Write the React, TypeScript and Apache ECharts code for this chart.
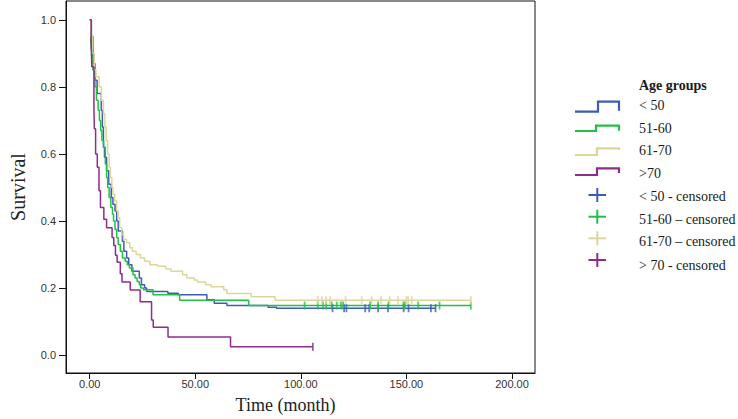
import React, { useEffect, useRef } from "react";
import * as echarts from "echarts";

// Kaplan-Meier step points [time (month), survival]
const under50: number[][] = [
  [0, 1.0], [0.8, 0.95], [1.5, 0.87], [2.5, 0.82], [3.5, 0.78], [5.5, 0.73], [6.0, 0.68],
  [6.5, 0.62], [7.0, 0.59], [8.0, 0.55], [9.0, 0.51], [10.2, 0.47], [11.0, 0.45], [12.0, 0.43],
  [12.8, 0.40], [13.5, 0.37], [15.5, 0.34], [16.2, 0.31], [17.5, 0.29], [18.5, 0.27], [20.0, 0.25],
  [23.5, 0.23], [24.5, 0.21], [26.0, 0.20], [27.0, 0.19], [37.0, 0.185], [42.0, 0.18], [55.5, 0.165],
  [59.0, 0.155], [65.0, 0.148], [84.5, 0.143], [88.5, 0.14],
];
const under50End = 163.8;
const under50Censored = [115, 120.5, 121.6, 130.5, 132.4, 136.6, 141.3, 148.7, 151, 161.6, 163.8];

const g5160: number[][] = [
  [0, 1.0], [0.5, 0.94], [0.8, 0.91], [1.5, 0.85], [2.5, 0.80], [3.2, 0.76], [4.0, 0.73],
  [4.6, 0.70], [5.2, 0.67], [5.8, 0.64], [6.6, 0.62], [7.4, 0.57], [8.0, 0.53], [8.5, 0.50],
  [9.2, 0.47], [10.0, 0.44], [10.8, 0.42], [11.3, 0.40], [12.0, 0.375], [12.8, 0.35], [13.5, 0.33],
  [14.5, 0.31], [15.5, 0.29], [16.8, 0.28], [17.8, 0.27], [18.8, 0.26], [20.5, 0.24], [21.5, 0.23],
  [22.5, 0.22], [23.5, 0.21], [24.2, 0.20], [25.4, 0.195], [30.0, 0.18], [42.6, 0.164], [75.3, 0.148],
];
const g5160End = 180.5;
const g5160Censored = [101.8, 108, 110.5, 112, 114.6, 117, 119, 120, 132.8, 136.6, 141.5, 148.6, 149.3, 155.6, 165.7, 180.5];

const g6170: number[][] = [
  [0, 1.0], [0.5, 0.95], [1.2, 0.90], [2.2, 0.85], [3.0, 0.83], [4.5, 0.80], [5.5, 0.76],
  [6.5, 0.72], [7.2, 0.68], [7.8, 0.64], [8.5, 0.60], [9.2, 0.56], [9.8, 0.53], [10.5, 0.50],
  [11.0, 0.48], [11.8, 0.46], [12.8, 0.43], [13.5, 0.41], [14.2, 0.38], [15.2, 0.36], [16.0, 0.345],
  [17.5, 0.335], [19.0, 0.32], [20.2, 0.31], [22.0, 0.30], [24.0, 0.29], [26.0, 0.28], [28.5, 0.27],
  [32.0, 0.265], [36.0, 0.257], [38.5, 0.25], [44.0, 0.24], [46.0, 0.23], [49.5, 0.224], [51.0, 0.218],
  [55.0, 0.21], [57.5, 0.204], [63.5, 0.195], [65.0, 0.184], [76.5, 0.174], [87.8, 0.164],
];
const g6170End = 180.5;
const g6170Censored = [108, 110, 112, 113.8, 121.2, 128.8, 133.5, 138, 142.1, 146, 150, 150.8, 152.5, 180.5];

const over70: number[][] = [
  [0, 1.0], [0.7, 0.93], [1.0, 0.86], [2.0, 0.74], [2.2, 0.675], [2.8, 0.60], [3.6, 0.56],
  [4.4, 0.49], [5.1, 0.44], [6.7, 0.405], [8.0, 0.38], [10.6, 0.351], [11.4, 0.327], [12.2, 0.298],
  [13.0, 0.277], [14.5, 0.243], [15.3, 0.218], [19.2, 0.194], [23.9, 0.159], [29.3, 0.105],
  [30.1, 0.083], [37.1, 0.054], [66.7, 0.025],
];
const over70End = 105.7;
const over70Censored = [105.7];

const groupNames = ["< 50", "51-60", "61-70", ">70"];
const censoredNames = ["< 50 - censored", "51-60 \u2013 censored", "61-70 \u2013 censored", "> 70 - censored"];
const colors = ["#3D5DB5", "#25BE47", "#DDD69C", "#8E2C8E"];

const xTicks = [0, 50, 100, 150, 200];
const yTicks = [0, 0.2, 0.4, 0.6, 0.8, 1.0];

function survivalAt(curve: number[][], t: number): number {
  let s = curve[0][1];
  for (const p of curve) {
    if (p[0] <= t) s = p[1];
  }
  return s;
}

export default function App() {
  const ref = useRef<HTMLDivElement>(null);
  useEffect(() => {
    if (!ref.current) return;
    const chart = echarts.init(ref.current, null, { renderer: "svg" });
    const curves = [under50, g5160, g6170, over70];
    const ends = [under50End, g5160End, g6170End, over70End];
    const cens = [under50Censored, g5160Censored, g6170Censored, over70Censored];
    const drawOrder = [2, 0, 1, 3];

    const series: any[] = [];
    drawOrder.forEach((i) => {
      const data = curves[i].map((p) => [p[0], p[1]]);
      data.push([ends[i], curves[i][curves[i].length - 1][1]]);
      series.push({
        name: groupNames[i],
        type: "line",
        step: "end",
        data,
        showSymbol: false,
        lineStyle: { color: colors[i], width: 1.5 },
        z: 2 + i,
      });
    });
    drawOrder.forEach((i) => {
      series.push({
        name: censoredNames[i],
        type: "scatter",
        symbol: "rect",
        symbolSize: [1.8, 8],
        itemStyle: { color: colors[i] },
        data: cens[i].map((t) => [t, survivalAt(curves[i], t)]),
        z: 6 + i,
      });
    });

    // legend (drawn as graphics)
    const stepIcons = [
      [[575, 111.7], [598, 111.7], [598, 101.7], [619, 101.7], [619, 110.7]],
      [[575, 131], [596, 131], [596, 125.7], [619, 125.7], [619, 130.7]],
      [[575, 155], [597, 155], [597, 148.3], [619, 148.3], [619, 150]],
      [[575, 175], [597, 175], [597, 168.3], [619, 168.3], [619, 173]],
    ];
    const textY = [105, 128.3, 150.7, 173.3];
    const censY = [196.7, 219.3, 241.7, 265];
    const plusY = [195, 216.7, 238.3, 260];
    const serifFont = "'Liberation Serif', 'Times New Roman', serif";
    const elements: any[] = [
      {
        type: "text",
        x: 639,
        y: 85,
        style: {
          text: "Age groups",
          font: "bold 14px " + serifFont,
          fill: "#1a1a1a",
          verticalAlign: "middle",
        },
      },
    ];
    for (let i = 0; i < 4; i++) {
      elements.push({
        type: "polyline",
        shape: { points: stepIcons[i] },
        style: { stroke: colors[i], lineWidth: 2.2, fill: null },
      });
      elements.push({
        type: "text",
        x: 639,
        y: textY[i],
        style: { text: groupNames[i], font: "14px " + serifFont, fill: "#1a1a1a", verticalAlign: "middle" },
      });
      elements.push({
        type: "line",
        shape: { x1: 588.5, y1: plusY[i], x2: 606, y2: plusY[i] },
        style: { stroke: colors[i], lineWidth: 2 },
      });
      elements.push({
        type: "line",
        shape: { x1: 597.3, y1: plusY[i] - 7, x2: 597.3, y2: plusY[i] + 7 },
        style: { stroke: colors[i], lineWidth: 2 },
      });
      elements.push({
        type: "text",
        x: 639,
        y: censY[i],
        style: { text: censoredNames[i], font: "14px " + serifFont, fill: "#1a1a1a", verticalAlign: "middle" },
      });
    }

    const labelFont = { fontFamily: "'Liberation Sans', Arial, sans-serif", fontSize: 11, color: "#333" };
    chart.setOption({
      animation: false,
      backgroundColor: "#fff",
      grid: {
        left: 60,
        right: 203,
        top: 1,
        bottom: 42,
        show: true,
        borderColor: "#111",
        borderWidth: 1,
        containLabel: false,
      },
      xAxis: {
        type: "value",
        min: -11.22,
        max: 210.9,
        name: "Time (month)",
        nameLocation: "middle",
        nameGap: 23,
        nameTextStyle: {
          fontFamily: serifFont,
          fontSize: 18,
          color: "#222",
          padding: [0, 30, 0, 0],
        },
        axisLine: { show: true, onZero: false, lineStyle: { color: "#111", width: 1 } },
        axisTick: { show: true, length: 6, customValues: xTicks, lineStyle: { color: "#111" } },
        axisLabel: {
          ...labelFont,
          margin: 5,
          customValues: xTicks,
          formatter: (v: number) => v.toFixed(2),
        },
        splitLine: { show: false },
      },
      yAxis: {
        type: "value",
        min: -0.0531,
        max: 1.056,
        name: "Survival",
        nameLocation: "middle",
        nameGap: 38,
        nameTextStyle: {
          fontFamily: serifFont,
          fontSize: 20,
          color: "#222",
        },
        axisLine: { show: true, onZero: false, lineStyle: { color: "#111", width: 1 } },
        axisTick: { show: true, length: 7, customValues: yTicks, lineStyle: { color: "#111" } },
        axisLabel: {
          ...labelFont,
          margin: 10,
          customValues: yTicks,
          formatter: (v: number) => v.toFixed(1),
        },
        splitLine: { show: false },
      },
      graphic: elements,
      series,
    });
    return () => chart.dispose();
  }, []);
  return <div ref={ref} style={{ width: 738, height: 419, position: "absolute", left: 0, top: 0 }} />;
}
